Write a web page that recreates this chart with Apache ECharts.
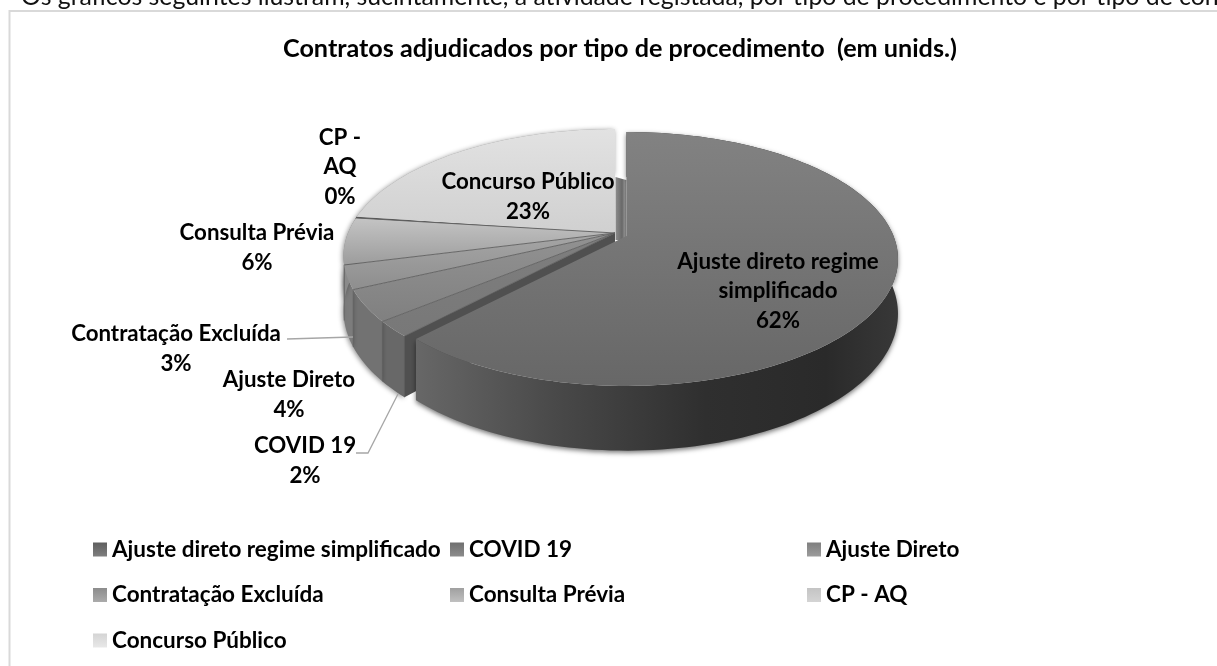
<!DOCTYPE html>
<html>
<head>
<meta charset="utf-8">
<style>html,body{margin:0;padding:0;background:#fff;overflow:hidden}#c{width:1217px;height:666px}</style>
<script src="https://cdn.jsdelivr.net/npm/echarts@6/dist/echarts.min.js"></script>
</head>
<body>
<div id="c"></div>
<script>
const categories = ['Ajuste direto regime simplificado','COVID 19','Ajuste Direto','Contratação Excluída','Consulta Prévia','CP - AQ','Concurso Público'];
const values = [62, 2, 4, 3, 6, 0.15, 22.85];
const pageTitle = 'Contratos adjudicados por tipo de procedimento  (em unids.)';
const introText = 'Os gráficos seguintes ilustram, sucintamente, a atividade registada, por tipo de procedimento e por tipo de con';

const FONT = 'Lato, "Open Sans", sans-serif';
const topColors = [['#828282','#676767'],['#7e7e7e','#787878'],['#929292','#808080'],['#a6a6a6','#8e8e8e'],['#c4c4c4','#9c9c9c'],['#555555','#555555'],['#e2e2e2','#d0d0d0']];
const wallColors = [null,'#686868','#727272','#7c7c7c','#8a8a8a','#555555','#999999'];
const legendColors = [['#5f5f5f','#7f7f7f'],['#6f6f6f','#8c8c8c'],['#7f7f7f','#9c9c9c'],['#8c8c8c','#ababab'],['#a0a0a0','#c0c0c0'],['#c4c4c4','#d4d4d4'],['#d4d4d4','#e8e8e8']];
const labelLayout = [
  {x:778,y:291,lines:['Ajuste direto regime','simplificado']},
  {x:305,y:461,lines:['COVID 19'],leader:[[356,453],[368,453],[398,394]]},
  {x:289,y:395,lines:['Ajuste Direto']},
  {x:176,y:349,lines:['Contratação Excluída'],leader:[[287,339],[353,337]]},
  {x:257,y:248,lines:['Consulta Prévia']},
  {x:340,y:167,lines:['CP -','AQ']},
  {x:528,y:197,lines:['Concurso Público']}
];
const REST = {cx:615, cy:233};
const MAIN = {cx:626.5, cy:236};
const R = 267, Q = 122.8, P = 0.181, H = 53;

const total = values.reduce((a,b)=>a+b,0);
const starts = []; values.reduce((acc,v,i)=>{starts[i]=acc; return acc+v;},0);

function pt(c, deg, depth, frac){
  const a = deg*Math.PI/180, s = Math.sin(a)*(frac===undefined?1:frac), t = -Math.cos(a)*(frac===undefined?1:frac);
  const w = 1 - P*t;
  return [c.cx + R*s/w, c.cy + (Q*t + (depth?H:0))/w];
}
function arc(c, a0, a1, depth){
  const n = Math.max(2, Math.ceil(Math.abs(a1-a0)/1.5)), out=[];
  for(let i=0;i<=n;i++) out.push(pt(c, a0+(a1-a0)*i/n, depth));
  return out;
}
function grad(a,b,horizontal){ return new echarts.graphic.LinearGradient(0,0,horizontal?1:0,horizontal?0:1,[{offset:0,color:a},{offset:1,color:b}]); }

function renderSlice(i){
  return function(params, api){
    const v = api.value(0);
    const a0 = starts[i]/total*360, a1 = (starts[i]+v)/total*360;
    const c = i===0 ? MAIN : REST;
    const base = i===0 ? 10 : 0;
    const kids = [];
    const apex = pt(c, 0, false, 0), apexB = pt(c, 0, true, 0);
    const rimT = arc(c,a0,a1,false), rimB = arc(c,a0,a1,true);
    if(i===0){
      // wall of the exploded slice seen through the gap
      kids.push({type:'polygon',z2:base+1,shape:{points:[[c.cx-11,c.cy-59],[c.cx-4,c.cy-57],[c.cx,c.cy-56],[c.cx,c.cy+4],[c.cx-11,c.cy+4]]},
        style:{fill:new echarts.graphic.LinearGradient(0,0,1,0,[{offset:0,color:'#8c8c8c'},{offset:.35,color:'#787878'},{offset:.6,color:'#686868'},{offset:.8,color:'#8a8a8a'},{offset:1,color:'#6e6e6e'}])}});
      kids.push({type:'polygon',z2:base+2,shape:{points:rimT.concat(rimB.slice().reverse())},
        style:{fill:new echarts.graphic.LinearGradient(0,0,1,0,[{offset:0,color:'#676767'},{offset:.3,color:'#484848'},{offset:.6,color:'#2f2f2f'},{offset:.85,color:'#2a2a2a'},{offset:1,color:'#383838'}]),
          shadowBlur:5,shadowColor:'rgba(0,0,0,0.55)',shadowOffsetY:2}});
    } else {
      kids.push({type:'polygon',z2:base+1,shape:{points:rimT.concat(rimB.slice().reverse())},
        style:{fill:wallColors[i],shadowBlur:5,shadowColor:'rgba(0,0,0,0.45)',shadowOffsetY:1,shadowOffsetX:-1}});
      kids.push({type:'polyline',z2:base+1,shape:{points:[rimT[0],rimB[0]]},style:{fill:'none',stroke:'#5c5c5c',lineWidth:0.8}});
      if(i===1){
        kids.push({type:'polygon',z2:base+1,shape:{points:[apex,rimT[0],rimB[0],apexB]},style:{fill:'#505050'}});
      }
    }
    kids.push({type:'polygon',z2:base+3,shape:{points:[apex].concat(rimT)},style:{fill:grad(topColors[i][0],topColors[i][1])}});
    if(i!==0 && i!==6){
      kids.push({type:'polyline',z2:base+4,shape:{points:[apex,rimT[0]]},style:{fill:'none',stroke:'#5e5e5e',lineWidth:0.9}});
    }
    const lab = labelLayout[i], pct = Math.round(v/total*100)+'%';
    const lines = lab.lines.concat([pct]);
    kids.push({type:'text',z2:30,style:{text:lines.join('\n'),x:lab.x,y:lab.y,align:'center',verticalAlign:'middle',font:'bold 22.3px '+FONT,lineHeight:29.5,fill:'#000'}});
    if(lab.leader){
      kids.push({type:'polyline',z2:29,shape:{points:lab.leader},style:{fill:'none',stroke:'#a6a6a6',lineWidth:1.3}});
    }
    return {type:'group',children:kids};
  };
}

const series = categories.map((name,i)=>({
  type:'custom', name, coordinateSystem:'none', data:[[values[i]]], renderItem:renderSlice(i), silent:true, animation:false
}));

function legendCol(left, idx){
  return {
    orient:'vertical', left, top:533, itemWidth:14, itemHeight:14, itemGap:22.5, selectedMode:false,
    icon:'rect', textStyle:{fontFamily:FONT,fontWeight:'bold',fontSize:22.5,color:'#000'},
    data:idx.map(i=>({name:categories[i],icon:'rect',itemStyle:{color:grad(legendColors[i][0],legendColors[i][1])}}))
  };
}

const chart = echarts.init(document.getElementById('c'),null,{renderer:'canvas'});
chart.setOption({
  animation:false,
  backgroundColor:'#fff',
  title:{text:pageTitle,left:278,top:31,textStyle:{fontFamily:FONT,fontWeight:'bold',fontSize:25.2,color:'#000'}},
  legend:[legendCol(88,[0,3,6]),legendCol(445,[1,4]),legendCol(802,[2,5])],
  graphic:[
    {type:'polyline',silent:true,shape:{points:[[9.5,666],[9.5,11],[1217,11]]},style:{fill:'none',stroke:'#d9d9d9',lineWidth:2}},
    {type:'text',silent:true,style:{text:introText,x:21,y:10,font:'24.8px '+FONT,fill:'#111',verticalAlign:'bottom'}}
  ],
  series
});
</script>
</body>
</html>
